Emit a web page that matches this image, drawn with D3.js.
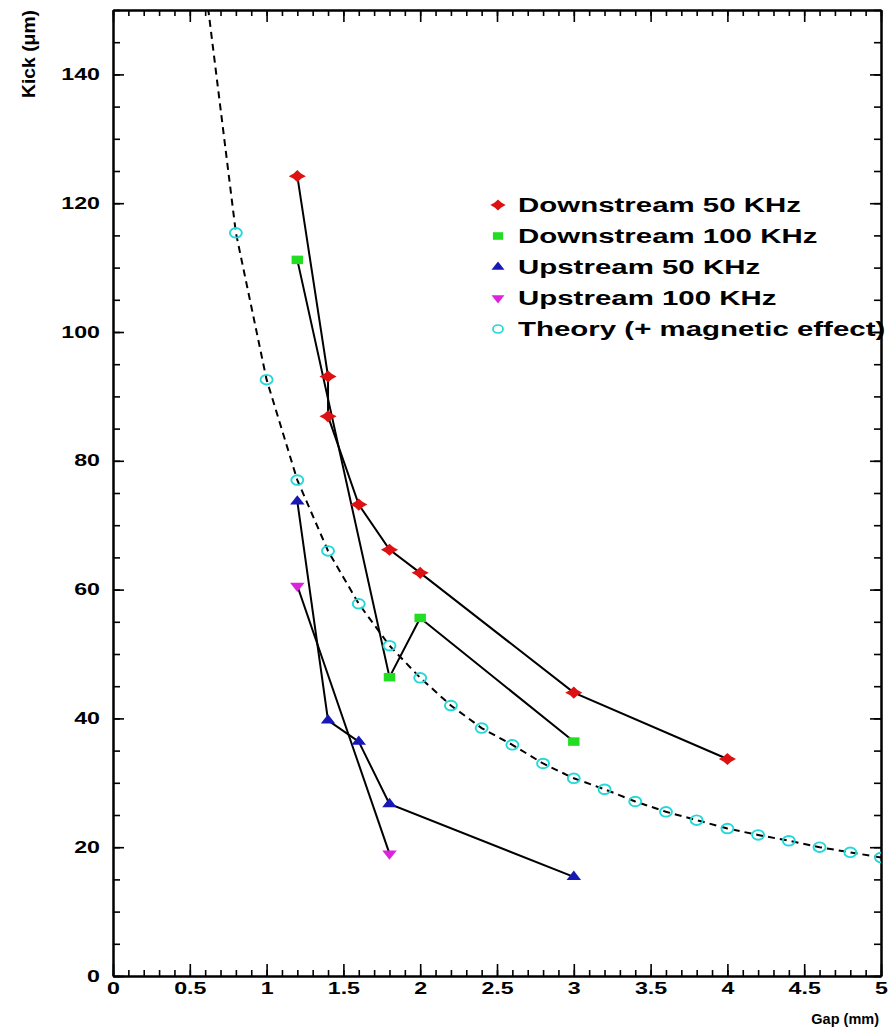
<!DOCTYPE html>
<html><head><meta charset="utf-8">
<script src="https://cdn.jsdelivr.net/npm/d3@7"></script>
<style>body{margin:0;background:#fff}svg{display:block}</style>
</head><body><svg id="c" width="888" height="1035"></svg>
<script>
// ---- data ----
const ds50Gap  = [1.2, 1.4, 1.4, 1.6, 1.8, 2.0, 3.0, 4.0];
const ds50Kick = [124.2, 93.1, 86.9, 73.2, 66.2, 62.6, 44.0, 33.7];
const ds100Gap  = [1.2, 1.8, 2.0, 3.0];
const ds100Kick = [111.2, 46.4, 55.6, 36.4];
const us50Gap  = [1.2, 1.4, 1.6, 1.8, 3.0];
const us50Kick = [73.7, 39.7, 36.4, 26.7, 15.4];
const us100Gap  = [1.2, 1.8];
const us100Kick = [60.6, 19.0];
const theoryGap  = [0.6, 0.8, 1.0, 1.2, 1.4, 1.6, 1.8, 2.0, 2.2, 2.4, 2.6, 2.8, 3.0, 3.2, 3.4, 3.6, 3.8, 4.0, 4.2, 4.4, 4.6, 4.8, 5.0];
const theoryKick = [154, 115.4, 92.6, 77.0, 66.0, 57.8, 51.3, 46.3, 42.0, 38.5, 35.9, 33.0, 30.7, 29.0, 27.1, 25.5, 24.2, 22.9, 21.9, 21.0, 20.0, 19.2, 18.4];

const xTickValues = [0, 0.5, 1, 1.5, 2, 2.5, 3, 3.5, 4, 4.5, 5];
const xTickLabels = ["0", "0.5", "1", "1.5", "2", "2.5", "3", "3.5", "4", "4.5", "5"];
const yTickValues = [0, 20, 40, 60, 80, 100, 120, 140];
const yTickLabels = ["0", "20", "40", "60", "80", "100", "120", "140"];
const legendLabels = ["Downstream 50 KHz", "Downstream 100 KHz", "Upstream 50 KHz", "Upstream 100 KHz", "Theory (+ magnetic effect)"];
const xTitle = "Gap (mm)";
const yTitle = "Kick (\u03bcm)";

// ---- layout ----
const L = 113, R = 881, T = 10, B = 976;
const SX = 1.45;
const FONT = "'Liberation Sans', Arial, Helvetica, sans-serif";
const svg = d3.select("#c");
svg.append("rect").attr("width", 888).attr("height", 1035).attr("fill", "#fff");

const x = d3.scaleLinear().domain([0, 5]).range([L, R]);
const y = d3.scaleLinear().domain([0, 150]).range([B, T]);

const minorX = d3.range(0, 51).map(i => i / 10);
const minorY = d3.range(0, 31).map(i => i * 5);

function styleAxis(g) {
  g.selectAll("path.domain").attr("stroke", "#000").attr("stroke-width", 2);
  g.selectAll(".tick line").attr("stroke", "#000").attr("stroke-width", 1.6);
}

// bottom
svg.append("g").attr("transform", `translate(0,${B})`)
  .call(d3.axisBottom(x).tickValues(minorX).tickSize(-6).tickSizeOuter(0).tickFormat(""))
  .call(styleAxis);
const gxb = svg.append("g").attr("transform", `translate(0,${B})`)
  .call(d3.axisBottom(x).tickValues(xTickValues).tickSize(-12).tickSizeOuter(0).tickPadding(7)
        .tickFormat((d, i) => xTickLabels[i]))
  .call(styleAxis);
gxb.selectAll("text").attr("font-family", FONT).attr("font-weight", "bold").attr("font-size", 16)
  .attr("fill", "#000").attr("transform", `scale(${SX},1)`);
// top
svg.append("g").attr("transform", `translate(0,${T})`)
  .call(d3.axisTop(x).tickValues(minorX).tickSize(-6).tickSizeOuter(0).tickFormat(""))
  .call(styleAxis);
svg.append("g").attr("transform", `translate(0,${T})`)
  .call(d3.axisTop(x).tickValues(xTickValues).tickSize(-12).tickSizeOuter(0).tickFormat(""))
  .call(styleAxis);
// left
svg.append("g").attr("transform", `translate(${L},0)`)
  .call(d3.axisLeft(y).tickValues(minorY).tickSize(-7).tickSizeOuter(0).tickFormat(""))
  .call(styleAxis);
const gyl = svg.append("g").attr("transform", `translate(${L},0)`)
  .call(d3.axisLeft(y).tickValues(yTickValues).tickSize(-11).tickSizeOuter(0).tickPadding(13)
        .tickFormat((d, i) => yTickLabels[i]))
  .call(styleAxis);
gyl.selectAll("text").attr("font-family", FONT).attr("font-weight", "bold").attr("font-size", 16)
  .attr("fill", "#000").attr("x", -13 / SX).attr("transform", `scale(${SX},1)`);
// right
svg.append("g").attr("transform", `translate(${R},0)`)
  .call(d3.axisRight(y).tickValues(minorY).tickSize(-7).tickSizeOuter(0).tickFormat(""))
  .call(styleAxis);
svg.append("g").attr("transform", `translate(${R},0)`)
  .call(d3.axisRight(y).tickValues(yTickValues).tickSize(-11).tickSizeOuter(0).tickFormat(""))
  .call(styleAxis);

// axis titles
svg.append("text").attr("transform", `translate(35,10) rotate(-90) scale(1,1.35)`)
  .attr("text-anchor", "end").attr("font-family", FONT).attr("font-weight", "bold")
  .attr("font-size", 14).attr("textLength", 88).attr("lengthAdjust", "spacingAndGlyphs")
  .attr("fill", "#000").text(yTitle);
svg.append("text").attr("x", 879).attr("y", 1024)
  .attr("text-anchor", "end").attr("font-family", FONT).attr("font-weight", "bold")
  .attr("font-size", 14.5)
  .attr("fill", "#000").text(xTitle);

// ---- data ----
svg.append("clipPath").attr("id", "clip").append("rect")
  .attr("x", L).attr("y", T).attr("width", R - L).attr("height", B - T);
const plot = svg.append("g").attr("clip-path", "url(#clip)");

const line = d3.line().x(d => x(d[0])).y(d => y(d[1]));
const zip = (a, b) => a.map((v, i) => [v, b[i]]);

// small four-pointed diamond/star marker
const symbolRootStar = {
  draw(ctx, size) {
    const r = Math.sqrt(size) * 0.62, k = r * 0.45;
    ctx.moveTo(0, -r);
    ctx.lineTo(k, -k);
    ctx.lineTo(r * 1.05, 0);
    ctx.lineTo(k, k);
    ctx.lineTo(0, r);
    ctx.lineTo(-k, k);
    ctx.lineTo(-r * 1.05, 0);
    ctx.lineTo(-k, -k);
    ctx.closePath();
  }
};

const series = [
  {gap: ds50Gap, kick: ds50Kick, color: "#dd1111", sym: symbolRootStar, size: 95, rot: 0},
  {gap: ds100Gap, kick: ds100Kick, color: "#22dd22", sym: d3.symbolSquare, size: 72, rot: 0},
  {gap: us50Gap, kick: us50Kick, color: "#1818b8", sym: d3.symbolTriangle, size: 50, rot: 0},
  {gap: us100Gap, kick: us100Kick, color: "#dd22dd", sym: d3.symbolTriangle, size: 50, rot: 180},
];
const theoryColor = "#22d8d8";

// theory dashed line
plot.append("path").datum(zip(theoryGap, theoryKick)).attr("d", line)
  .attr("fill", "none").attr("stroke", "#000").attr("stroke-width", 2).attr("stroke-dasharray", "7,5");
// measured lines
series.forEach(s => {
  plot.append("path").datum(zip(s.gap, s.kick)).attr("d", line)
    .attr("fill", "none").attr("stroke", "#000").attr("stroke-width", 2);
});
// theory markers
plot.selectAll("ellipse.th").data(zip(theoryGap, theoryKick)).join("ellipse")
  .attr("class", "th").attr("cx", d => x(d[0])).attr("cy", d => y(d[1]))
  .attr("rx", 6).attr("ry", 4.8).attr("fill", "none").attr("stroke", theoryColor).attr("stroke-width", 1.9);
// measured markers (draw in reverse so red is on top)
series.slice().reverse().forEach(s => {
  plot.selectAll(null).data(zip(s.gap, s.kick)).join("path")
    .attr("d", d3.symbol().type(s.sym).size(s.size))
    .attr("transform", d => `translate(${x(d[0])},${y(d[1])}) scale(1.35,1) rotate(${s.rot})`)
    .attr("fill", s.color);
});

// ---- legend ----
const legY0 = 205, legDY = 31, legMX = 498, legTX = 518, LSX = 1.51;
const leg = svg.append("g");
legendLabels.forEach((lab, i) => {
  const yy = legY0 + i * legDY;
  if (i < 4) {
    const s = series[i];
    leg.append("path").attr("d", d3.symbol().type(s.sym).size(s.size * 0.8))
      .attr("transform", `translate(${legMX},${yy}) scale(1.35,1) rotate(${s.rot})`).attr("fill", s.color);
  } else {
    leg.append("ellipse").attr("cx", legMX).attr("cy", yy).attr("rx", 5).attr("ry", 4)
      .attr("fill", "none").attr("stroke", theoryColor).attr("stroke-width", 1.7);
  }
  leg.append("text").attr("transform", `translate(${legTX},${yy}) scale(${LSX},1)`)
    .attr("dy", "0.36em").attr("font-family", FONT).attr("font-weight", "bold").attr("font-size", 19.5)
    .attr("fill", "#000").text(lab);
});
</script>
</body></html>
